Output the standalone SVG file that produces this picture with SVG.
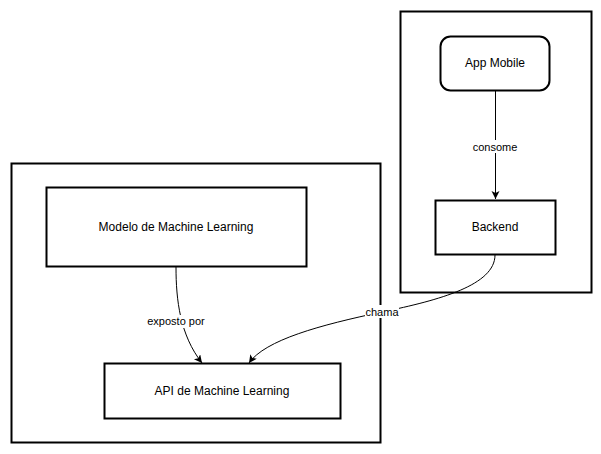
<svg xmlns="http://www.w3.org/2000/svg" width="601" height="454" viewBox="0 0 601 454">
<style>
.box{fill:#fff;stroke:#000;stroke-width:2}
.t{font-family:"Liberation Sans",Arial,sans-serif;font-size:12px;fill:#000;text-anchor:middle;dominant-baseline:central}
.l{font-family:"Liberation Sans",Arial,sans-serif;font-size:11px;fill:#000;text-anchor:middle;dominant-baseline:central}
.e{fill:none;stroke:#000;stroke-width:1}
</style>
<defs>
<marker id="arr" markerWidth="10" markerHeight="10" refX="8" refY="4" orient="auto" markerUnits="userSpaceOnUse">
<path d="M0,0 L8,4 L0,8 L2,4 Z" fill="#000"/>
</marker>
</defs>
<rect width="601" height="454" fill="#fff"/>
<g id="container-ml"><rect class="box" x="11.5" y="163.5" width="369" height="279"/></g>
<g id="container-app"><rect class="box" x="400.5" y="11.5" width="191" height="281"/></g>
<g id="modelo"><rect class="box" x="46.5" y="187.5" width="260" height="79"/><text class="t" x="176" y="227">Modelo de Machine Learning</text></g>
<g id="api"><rect class="box" x="104.5" y="363.5" width="236" height="55"/><text class="t" x="222" y="391">API de Machine Learning</text></g>
<g id="app"><rect class="box" x="440.5" y="36.5" width="109" height="54" rx="10" ry="10"/><text class="t" x="495" y="63">App Mobile</text></g>
<g id="backend"><rect class="box" x="435.5" y="200.5" width="120" height="54"/><text class="t" x="495" y="227">Backend</text></g>
<g id="connectors">
<path class="e" d="M495.5,91 L495.5,199" marker-end="url(#arr)"/>
<rect x="471" y="140" width="48" height="13" fill="#fff"/>
<text class="l" x="495" y="146.5">consome</text>
<path class="e" d="M176,267 C176,300 180,335 202,363" marker-end="url(#arr)"/>
<rect x="146" y="315" width="60" height="13" fill="#fff"/>
<text class="l" x="176" y="321">exposto por</text>
<path class="e" d="M495,255 C495,285 440,300 382,312 C320,325 265,340 249,363" marker-end="url(#arr)"/>
<rect x="365" y="305" width="34" height="13" fill="#fff"/>
<text class="l" x="382" y="311.5">chama</text>
</g>
</svg>
